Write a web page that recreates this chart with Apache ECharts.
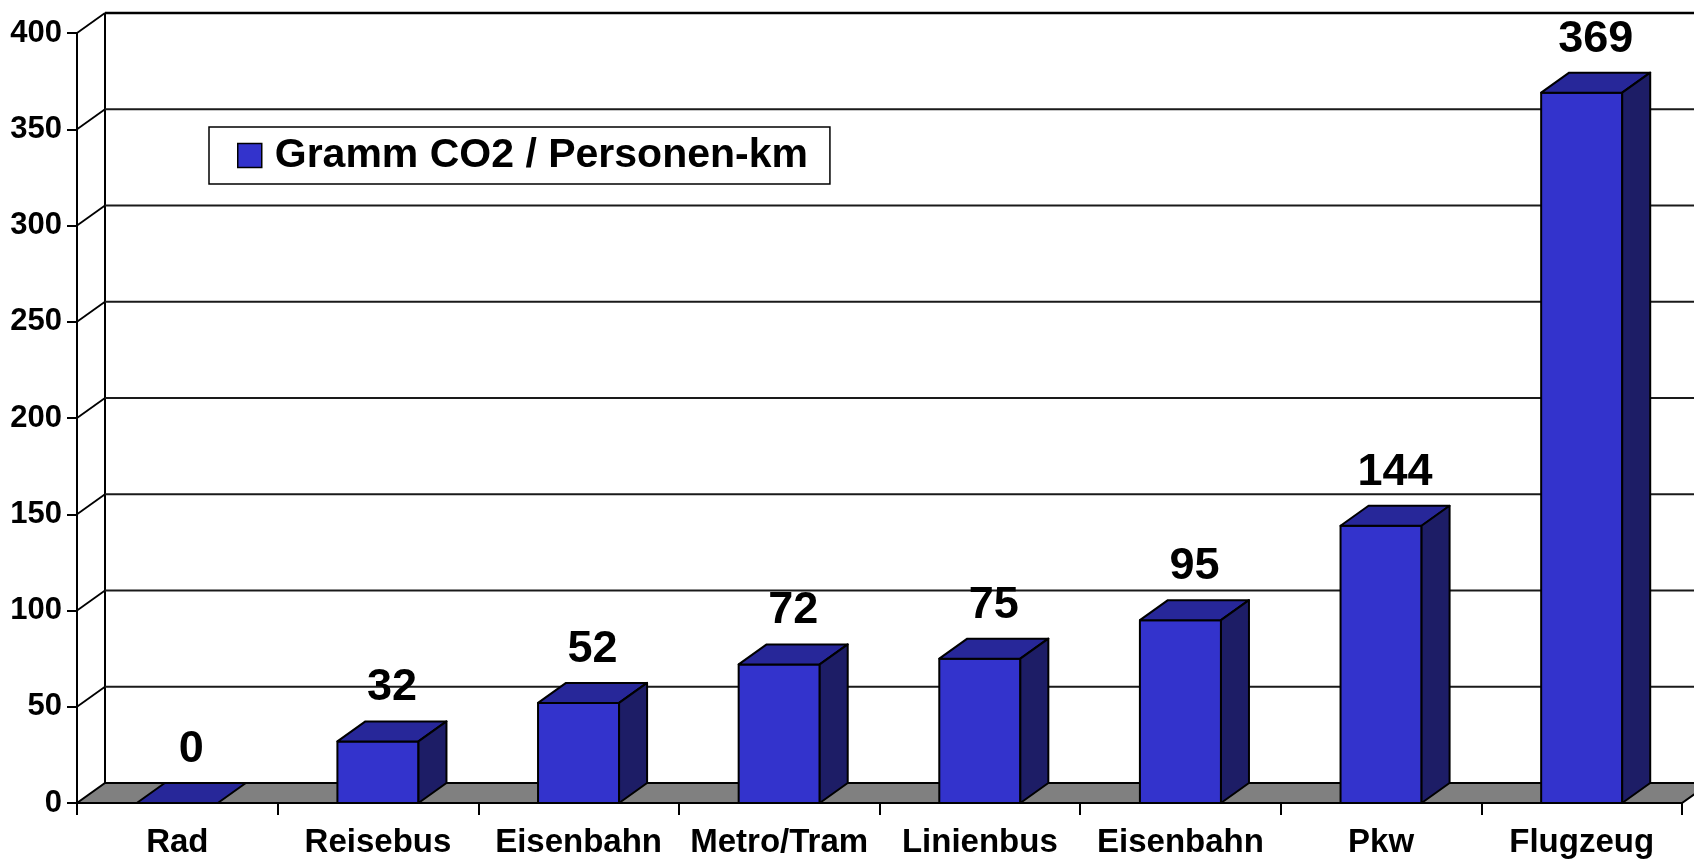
<!DOCTYPE html>
<html>
<head>
<meta charset="utf-8">
<script src="https://cdn.jsdelivr.net/npm/echarts@6/dist/echarts.min.js"></script>
<style>
html,body{margin:0;padding:0;background:#fff;}
#chart{width:1694px;height:865px;}
</style>
</head>
<body>
<div id="chart"></div>
<script>
const categories = ['Rad', 'Reisebus', 'Eisenbahn', 'Metro/Tram', 'Linienbus', 'Eisenbahn', 'Pkw', 'Flugzeug'];
const values = [0, 32, 52, 72, 75, 95, 144, 369];
const yTicks = [0, 50, 100, 150, 200, 250, 300, 350, 400];
const seriesName = 'Gramm CO2 / Personen-km';

const FONT = '"Liberation Sans", Arial, Helvetica, sans-serif';
const DX = 28, DY = 20;
const FRONT = '#3333CC', TOP = '#272799', SIDE = '#1D1D66';

const chart = echarts.init(document.getElementById('chart'), null, {renderer: 'canvas'});

function gridBounds(api) {
  const band = api.size([1, 0])[0];
  const xL = api.coord([0, 0])[0] - band / 2;
  const xR = api.coord([categories.length - 1, 0])[0] + band / 2;
  return {band, xL, xR};
}

function renderWalls(params, api) {
  const t = api.value(1);
  const {xL, xR} = gridBounds(api);
  const y = api.coord([0, t])[1];
  const children = [];
  if (t === yTicks[0]) {
    const yTop = api.coord([0, yTicks[yTicks.length - 1]])[1];
    children.push({
      type: 'polygon',
      shape: {points: [[xL, y], [xR, y], [xR + DX, y - DY], [xL + DX, y - DY]]},
      style: {fill: '#808080', stroke: '#000', lineWidth: 2}
    });
    children.push({
      type: 'line',
      shape: {x1: xL + DX, y1: y - DY, x2: xL + DX, y2: yTop - DY},
      style: {stroke: '#000', lineWidth: 2}
    });
  } else {
    const isTop = t === yTicks[yTicks.length - 1];
    children.push({
      type: 'line',
      shape: {x1: xL, y1: y, x2: xL + DX, y2: y - DY},
      style: {stroke: '#000', lineWidth: 1.8}
    });
    children.push({
      type: 'line',
      shape: {x1: xL + DX, y1: y - DY, x2: xR + DX + 40, y2: y - DY},
      style: {stroke: isTop ? '#000' : '#1a1a1a', lineWidth: isTop ? 2.5 : 1.8}
    });
  }
  return {type: 'group', children};
}

function renderBar(params, api) {
  const i = api.value(0), v = api.value(1);
  const base = api.coord([i, 0]);
  const top = api.coord([i, v]);
  const band = api.size([1, 0])[0];
  const w = band * 0.404;
  const x0 = base[0] - w / 2, x1 = base[0] + w / 2;
  const yb = base[1], yt = top[1];
  const st = {stroke: '#000', lineWidth: 2, lineJoin: 'round'};
  const children = [];
  if (v > 0) {
    children.push({type: 'rect', shape: {x: x0, y: yt, width: w, height: yb - yt},
      style: Object.assign({fill: FRONT}, st)});
  }
  children.push({type: 'polygon',
    shape: {points: [[x0, yt], [x1, yt], [x1 + DX, yt - DY], [x0 + DX, yt - DY]]},
    style: Object.assign({fill: TOP}, st)});
  if (v > 0) {
    children.push({type: 'polygon',
      shape: {points: [[x1, yb], [x1, yt], [x1 + DX, yt - DY], [x1 + DX, yb - DY]]},
      style: Object.assign({fill: SIDE}, st)});
  }
  children.push({type: 'text',
    style: {text: String(v), x: base[0] + DX / 2, y: yt - DY - 11,
      align: 'center', verticalAlign: 'bottom',
      font: 'bold 45px ' + FONT, fill: '#000'}});
  return {type: 'group', children};
}

const option = {
  animation: false,
  backgroundColor: '#fff',
  grid: {left: 77, right: 12, top: 33, bottom: 62, containLabel: false},
  legend: {
    left: 209, top: 127,
    padding: [8, 22, 8, 28],
    borderColor: '#000', borderWidth: 1.5, backgroundColor: '#fff',
    itemWidth: 24, itemHeight: 24,
    selectedMode: false,
    textStyle: {fontSize: 41, fontWeight: 'bold', color: '#000', fontFamily: FONT, padding: [0, 0, 0, 8]},
    data: [{name: seriesName, icon: 'rect', itemStyle: {color: FRONT, borderColor: '#000', borderWidth: 1.5}}]
  },
  xAxis: {
    type: 'category',
    data: categories,
    axisLine: {show: true, lineStyle: {color: '#000', width: 2}},
    axisTick: {show: true, length: 12, lineStyle: {color: '#000', width: 2}},
    axisLabel: {interval: 0, margin: 23, fontSize: 33, fontWeight: 'bold', color: '#000', fontFamily: FONT},
    splitLine: {show: false}
  },
  yAxis: {
    type: 'value',
    min: 0, max: 400, interval: 50,
    axisLine: {show: true, lineStyle: {color: '#000', width: 2}},
    axisTick: {show: true, length: 10, lineStyle: {color: '#000', width: 2}},
    axisLabel: {margin: 15, fontSize: 31, fontWeight: 'bold', color: '#000', fontFamily: FONT},
    splitLine: {show: false}
  },
  series: [
    {
      type: 'custom',
      name: '_walls',
      silent: true,
      z: 1,
      renderItem: renderWalls,
      data: yTicks.map(t => [0, t]),
      encode: {x: 0, y: 1}
    },
    {
      type: 'custom',
      name: seriesName,
      z: 3,
      itemStyle: {color: FRONT},
      renderItem: renderBar,
      data: values.map((v, i) => [i, v]),
      encode: {x: 0, y: 1}
    }
  ]
};
chart.setOption(option);
</script>
</body>
</html>
